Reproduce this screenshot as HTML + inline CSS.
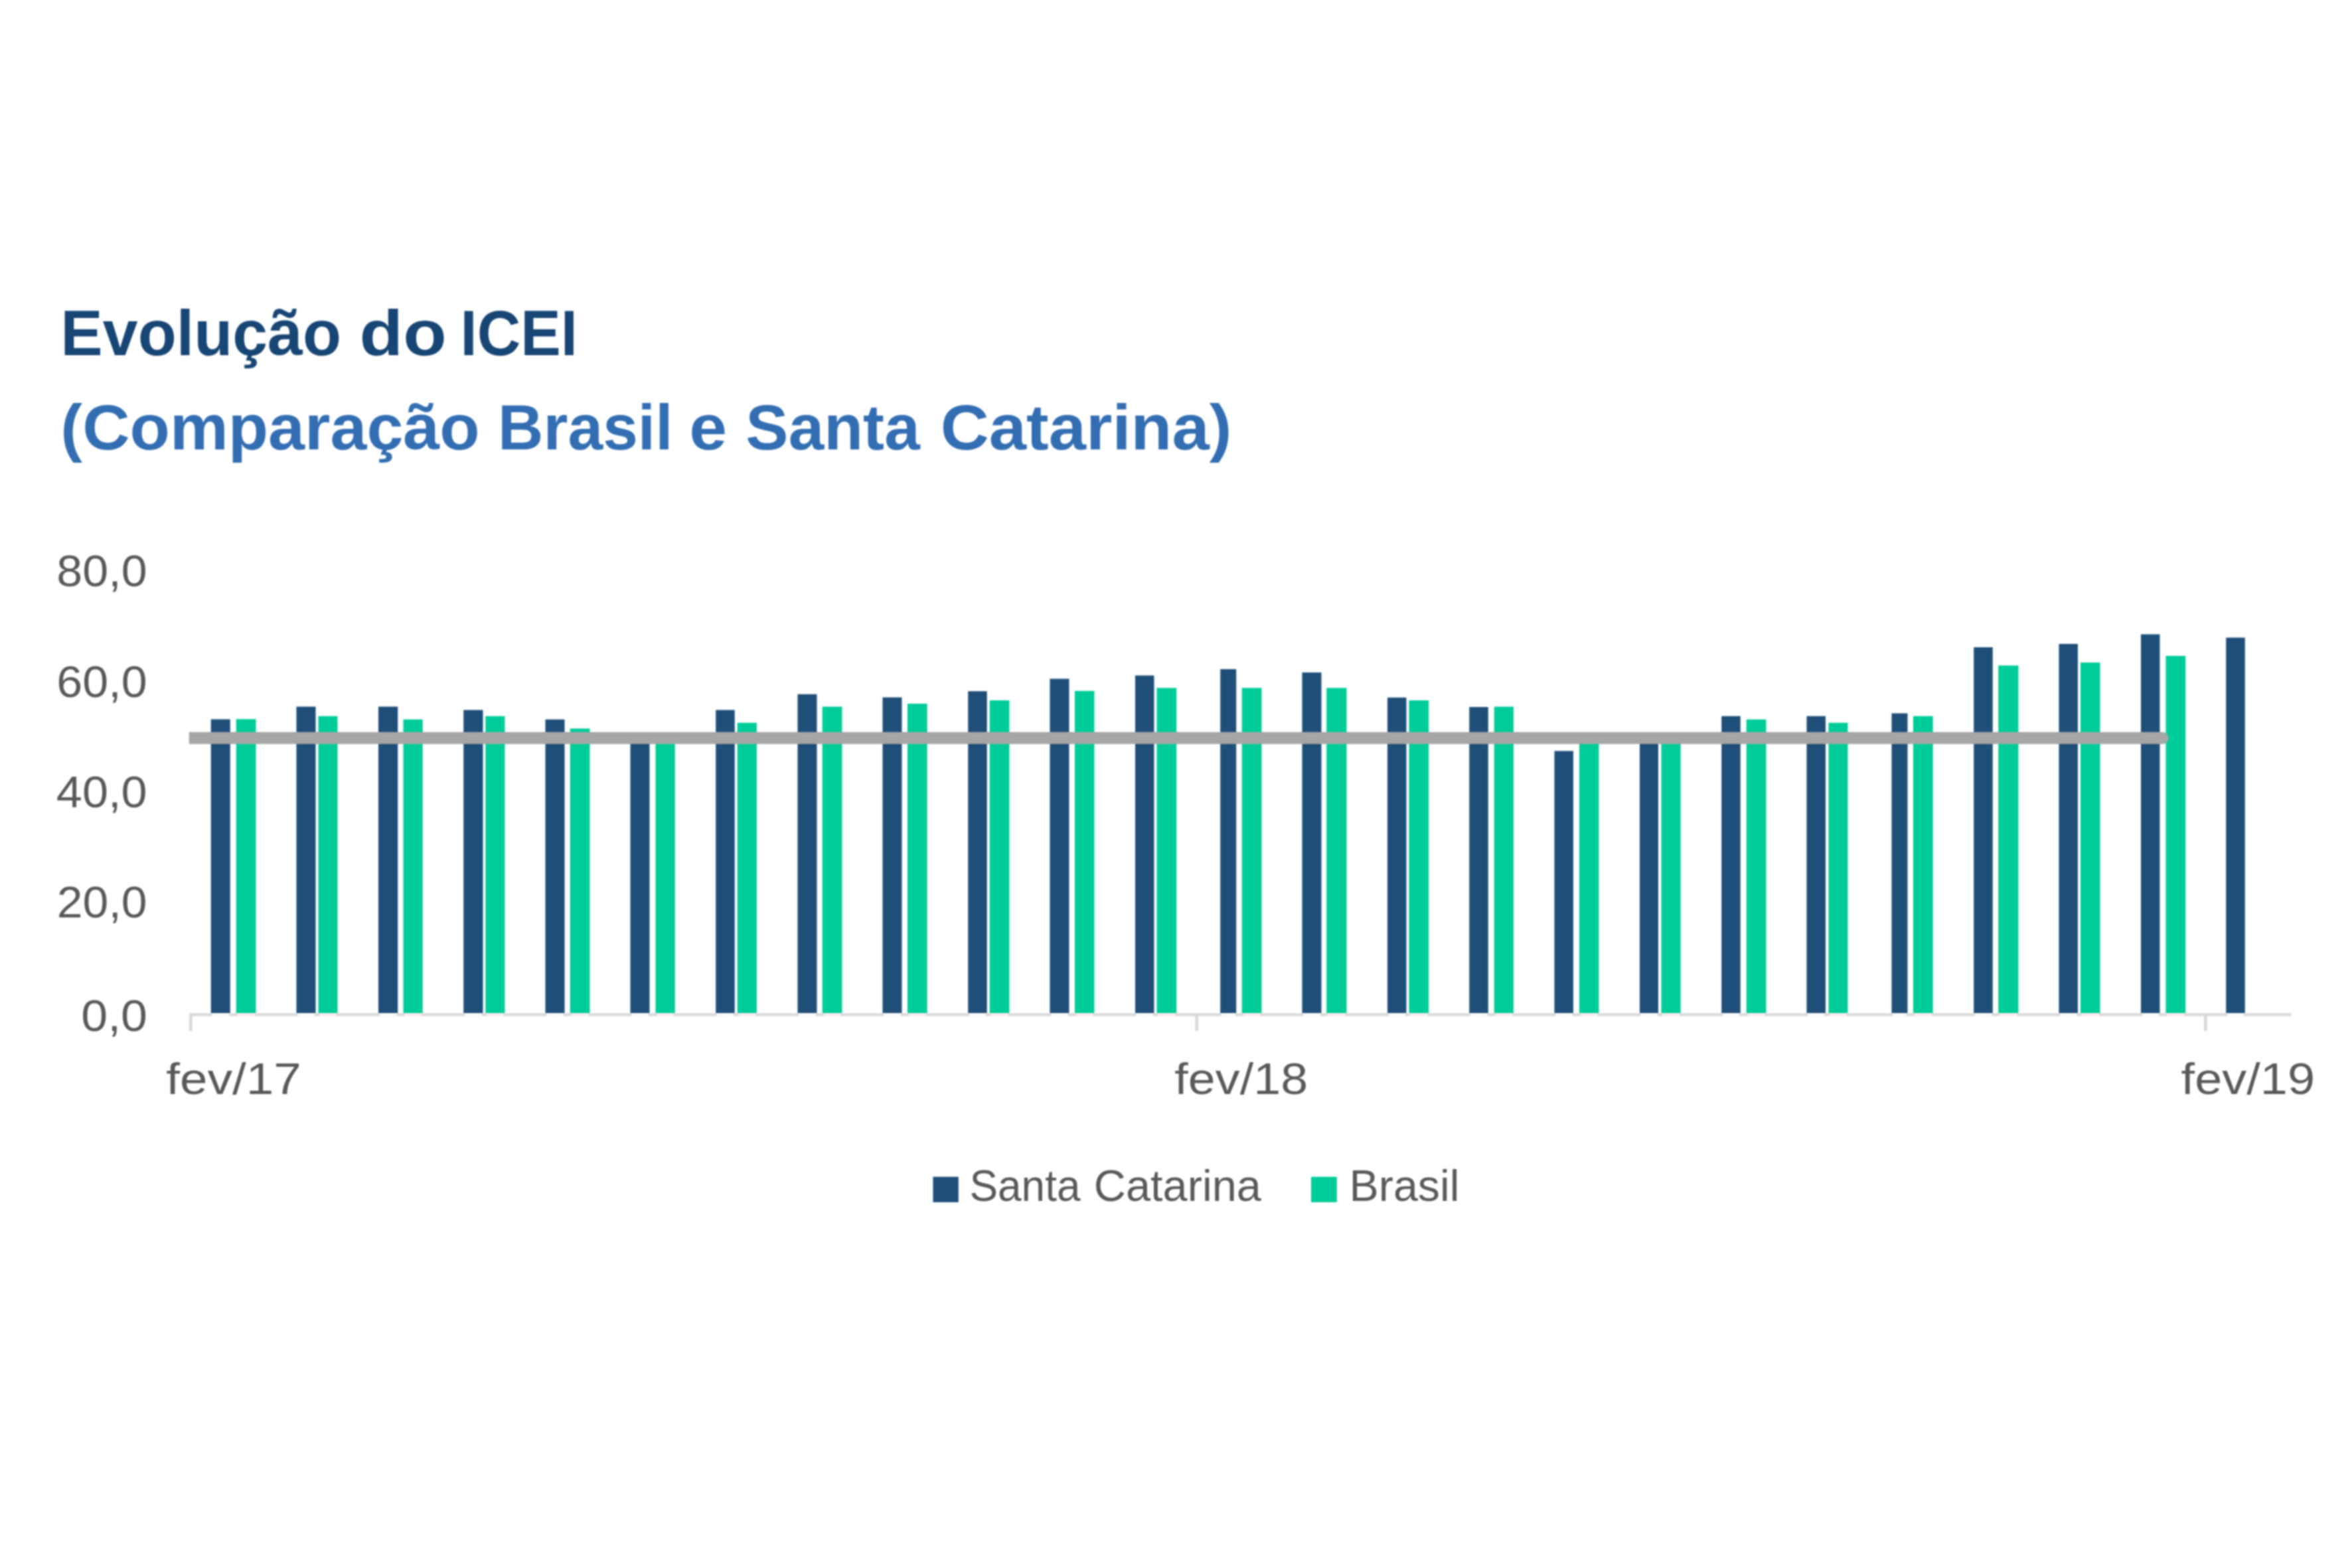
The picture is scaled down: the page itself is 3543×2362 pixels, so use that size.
<!DOCTYPE html>
<html lang="pt-BR"><head><meta charset="utf-8"><title>Evolução do ICEI</title>
<style>
html,body{margin:0;padding:0;background:#fff;}
body{width:3543px;height:2362px;overflow:hidden;}
svg{display:block;filter:blur(1.3px);}
text{font-family:"Liberation Sans",sans-serif;}
.t1{font-weight:bold;font-size:96px;fill:#174574;}
.t2{font-weight:bold;font-size:96px;fill:#336eb3;}
.ax{font-size:66px;fill:#595959;}
</style></head><body>
<svg width="3543" height="2362" viewBox="0 0 3543 2362">
<rect width="3543" height="2362" fill="#ffffff"/>
<text class="t1" y="534.5"><tspan x="91.36" textLength="422.7" lengthAdjust="spacingAndGlyphs">Evolução</tspan> <tspan x="541.63" textLength="131.04" lengthAdjust="spacingAndGlyphs">do</tspan> <tspan x="693.53" textLength="176.51" lengthAdjust="spacingAndGlyphs">ICEI</tspan></text>
<text class="t2" y="677.2"><tspan x="91.36" textLength="631.25" lengthAdjust="spacingAndGlyphs">(Comparação</tspan> <tspan x="750.08" textLength="263.45" lengthAdjust="spacingAndGlyphs">Brasil</tspan> <tspan x="1038.24" textLength="56.87" lengthAdjust="spacingAndGlyphs">e</tspan> <tspan x="1123.39" textLength="262.43" lengthAdjust="spacingAndGlyphs">Santa</tspan> <tspan x="1416.68" textLength="438.7" lengthAdjust="spacingAndGlyphs">Catarina)</tspan></text>
<text class="ax" y="883"><tspan x="85.32" textLength="136.3" lengthAdjust="spacingAndGlyphs">80,0</tspan></text>
<text class="ax" y="1049.5"><tspan x="85.32" textLength="136.3" lengthAdjust="spacingAndGlyphs">60,0</tspan></text>
<text class="ax" y="1215.8"><tspan x="84.87" textLength="136.76" lengthAdjust="spacingAndGlyphs">40,0</tspan></text>
<text class="ax" y="1382"><tspan x="85.83" textLength="135.78" lengthAdjust="spacingAndGlyphs">20,0</tspan></text>
<text class="ax" y="1553"><tspan x="122.24" textLength="99.75" lengthAdjust="spacingAndGlyphs">0,0</tspan></text>
<text class="ax" y="1648"><tspan x="250.37" textLength="203.43" lengthAdjust="spacingAndGlyphs">fev/17</tspan></text>
<text class="ax" y="1648"><tspan x="1769.38" textLength="200.74" lengthAdjust="spacingAndGlyphs">fev/18</tspan></text>
<text class="ax" y="1648"><tspan x="3285.58" textLength="201.56" lengthAdjust="spacingAndGlyphs">fev/19</tspan></text>
<text class="ax" y="1809"><tspan x="1460.39" textLength="167.08" lengthAdjust="spacingAndGlyphs">Santa</tspan> <tspan x="1647.77" textLength="252.21" lengthAdjust="spacingAndGlyphs">Catarina</tspan></text>
<text class="ax" y="1809"><tspan x="2032.47" textLength="166.11" lengthAdjust="spacingAndGlyphs">Brasil</tspan></text>
<g fill="#1f4e79">
<rect x="317.75" y="1083.50" width="29.00" height="442.70"/>
<rect x="446.50" y="1064.50" width="29.00" height="461.70"/>
<rect x="570.00" y="1064.50" width="29.25" height="461.70"/>
<rect x="698.25" y="1069.50" width="29.25" height="456.70"/>
<rect x="821.50" y="1083.75" width="29.00" height="442.45"/>
<rect x="949.50" y="1106.00" width="29.00" height="420.20"/>
<rect x="1078.25" y="1069.50" width="28.50" height="456.70"/>
<rect x="1201.50" y="1045.75" width="29.00" height="480.45"/>
<rect x="1329.50" y="1050.50" width="29.00" height="475.70"/>
<rect x="1458.25" y="1041.25" width="28.50" height="484.95"/>
<rect x="1581.50" y="1022.50" width="29.00" height="503.70"/>
<rect x="1710.00" y="1017.50" width="28.50" height="508.70"/>
<rect x="1838.25" y="1008.00" width="24.00" height="518.20"/>
<rect x="1961.50" y="1013.00" width="29.00" height="513.20"/>
<rect x="2090.00" y="1050.75" width="28.50" height="475.45"/>
<rect x="2213.25" y="1065.00" width="28.50" height="461.20"/>
<rect x="2341.50" y="1131.25" width="28.50" height="394.95"/>
<rect x="2470.00" y="1110.00" width="28.00" height="416.20"/>
<rect x="2593.25" y="1078.75" width="28.50" height="447.45"/>
<rect x="2721.50" y="1078.75" width="28.50" height="447.45"/>
<rect x="2849.50" y="1074.50" width="24.00" height="451.70"/>
<rect x="2973.25" y="975.00" width="28.50" height="551.20"/>
<rect x="3101.50" y="970.00" width="28.50" height="556.20"/>
<rect x="3225.00" y="955.50" width="28.50" height="570.70"/>
<rect x="3353.25" y="960.50" width="28.50" height="565.70"/>
</g>
<g fill="#00cc99">
<rect x="355.75" y="1083.25" width="29.75" height="442.95"/>
<rect x="479.50" y="1078.75" width="29.00" height="447.45"/>
<rect x="607.50" y="1083.75" width="29.25" height="442.45"/>
<rect x="731.25" y="1078.75" width="29.25" height="447.45"/>
<rect x="858.75" y="1097.50" width="29.75" height="428.70"/>
<rect x="987.50" y="1108.00" width="29.25" height="418.20"/>
<rect x="1110.75" y="1088.75" width="29.25" height="437.45"/>
<rect x="1238.75" y="1064.50" width="29.75" height="461.70"/>
<rect x="1367.00" y="1060.00" width="29.75" height="466.20"/>
<rect x="1490.75" y="1055.00" width="29.75" height="471.20"/>
<rect x="1619.00" y="1040.75" width="29.50" height="485.45"/>
<rect x="1742.50" y="1036.25" width="29.75" height="489.95"/>
<rect x="1870.75" y="1036.25" width="29.75" height="489.95"/>
<rect x="1998.25" y="1036.25" width="30.25" height="489.95"/>
<rect x="2122.50" y="1055.00" width="29.75" height="471.20"/>
<rect x="2250.75" y="1064.50" width="29.25" height="461.70"/>
<rect x="2379.00" y="1112.00" width="29.50" height="414.20"/>
<rect x="2502.50" y="1110.00" width="29.25" height="416.20"/>
<rect x="2630.75" y="1083.75" width="29.75" height="442.45"/>
<rect x="2754.50" y="1088.75" width="29.00" height="437.45"/>
<rect x="2882.00" y="1078.75" width="29.75" height="447.45"/>
<rect x="3010.25" y="1002.50" width="30.25" height="523.70"/>
<rect x="3134.00" y="998.00" width="29.50" height="528.20"/>
<rect x="3262.50" y="988.00" width="29.75" height="538.20"/>
</g>
<g fill="#d9d9d9">
<rect x="285" y="1526.3" width="3166.3" height="4.4"/>
<rect x="285.00" y="1528" width="4.8" height="25"/>
<rect x="1800.35" y="1528" width="4.8" height="25"/>
<rect x="3319.85" y="1528" width="4.8" height="25"/>
</g>
<g fill="#fefbf8">
<rect x="319.25" y="1526.3" width="26.00" height="4.4"/>
<rect x="448.00" y="1526.3" width="26.00" height="4.4"/>
<rect x="571.50" y="1526.3" width="26.25" height="4.4"/>
<rect x="699.75" y="1526.3" width="26.25" height="4.4"/>
<rect x="823.00" y="1526.3" width="26.00" height="4.4"/>
<rect x="951.00" y="1526.3" width="26.00" height="4.4"/>
<rect x="1079.75" y="1526.3" width="25.50" height="4.4"/>
<rect x="1203.00" y="1526.3" width="26.00" height="4.4"/>
<rect x="1331.00" y="1526.3" width="26.00" height="4.4"/>
<rect x="1459.75" y="1526.3" width="25.50" height="4.4"/>
<rect x="1583.00" y="1526.3" width="26.00" height="4.4"/>
<rect x="1711.50" y="1526.3" width="25.50" height="4.4"/>
<rect x="1839.75" y="1526.3" width="21.00" height="4.4"/>
<rect x="1963.00" y="1526.3" width="26.00" height="4.4"/>
<rect x="2091.50" y="1526.3" width="25.50" height="4.4"/>
<rect x="2214.75" y="1526.3" width="25.50" height="4.4"/>
<rect x="2343.00" y="1526.3" width="25.50" height="4.4"/>
<rect x="2471.50" y="1526.3" width="25.00" height="4.4"/>
<rect x="2594.75" y="1526.3" width="25.50" height="4.4"/>
<rect x="2723.00" y="1526.3" width="25.50" height="4.4"/>
<rect x="2851.00" y="1526.3" width="21.00" height="4.4"/>
<rect x="2974.75" y="1526.3" width="25.50" height="4.4"/>
<rect x="3103.00" y="1526.3" width="25.50" height="4.4"/>
<rect x="3226.50" y="1526.3" width="25.50" height="4.4"/>
<rect x="3354.75" y="1526.3" width="25.50" height="4.4"/>
</g>
<g fill="#fdeef1">
<rect x="357.25" y="1526.3" width="26.75" height="4.4"/>
<rect x="481.00" y="1526.3" width="26.00" height="4.4"/>
<rect x="609.00" y="1526.3" width="26.25" height="4.4"/>
<rect x="732.75" y="1526.3" width="26.25" height="4.4"/>
<rect x="860.25" y="1526.3" width="26.75" height="4.4"/>
<rect x="989.00" y="1526.3" width="26.25" height="4.4"/>
<rect x="1112.25" y="1526.3" width="26.25" height="4.4"/>
<rect x="1240.25" y="1526.3" width="26.75" height="4.4"/>
<rect x="1368.50" y="1526.3" width="26.75" height="4.4"/>
<rect x="1492.25" y="1526.3" width="26.75" height="4.4"/>
<rect x="1620.50" y="1526.3" width="26.50" height="4.4"/>
<rect x="1744.00" y="1526.3" width="26.75" height="4.4"/>
<rect x="1872.25" y="1526.3" width="26.75" height="4.4"/>
<rect x="1999.75" y="1526.3" width="27.25" height="4.4"/>
<rect x="2124.00" y="1526.3" width="26.75" height="4.4"/>
<rect x="2252.25" y="1526.3" width="26.25" height="4.4"/>
<rect x="2380.50" y="1526.3" width="26.50" height="4.4"/>
<rect x="2504.00" y="1526.3" width="26.25" height="4.4"/>
<rect x="2632.25" y="1526.3" width="26.75" height="4.4"/>
<rect x="2756.00" y="1526.3" width="26.00" height="4.4"/>
<rect x="2883.50" y="1526.3" width="26.75" height="4.4"/>
<rect x="3011.75" y="1526.3" width="27.25" height="4.4"/>
<rect x="3135.50" y="1526.3" width="26.50" height="4.4"/>
<rect x="3264.00" y="1526.3" width="26.75" height="4.4"/>
</g>
<path d="M284.8 1102.8 H3258 A8.6 9 0 0 1 3258 1120.8 H284.8 Z" fill="#a6a6a6"/>
<rect x="1405.5" y="1772.7" width="38.3" height="38.3" fill="#1f4e79"/>
<rect x="1975" y="1772.7" width="38.8" height="38.3" fill="#00cc99"/>
</svg>
</body></html>
